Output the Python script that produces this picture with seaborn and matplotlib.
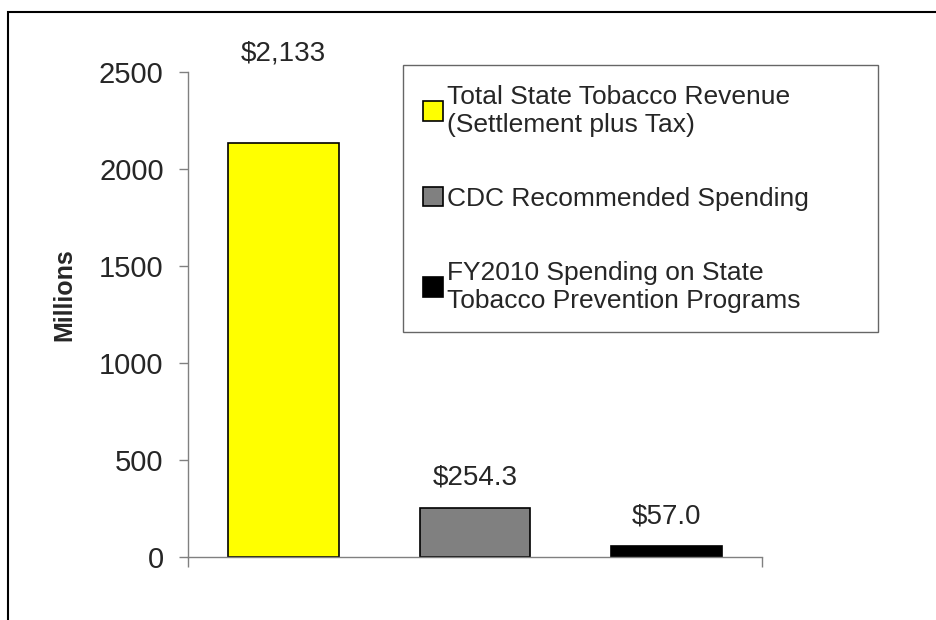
import matplotlib.pyplot as plt
import matplotlib.patches as mpatches
import seaborn as sns
import pandas as pd

# ---- data ----
categories = ['Total State Tobacco Revenue\n(Settlement plus Tax)',
              'CDC Recommended Spending',
              'FY2010 Spending on State\nTobacco Prevention Programs']
values = [2133, 254.3, 57.0]
value_labels = ['$2,133', '$254.3', '$57.0']
bar_colors = ['#ffff00', '#808080', '#000000']

df = pd.DataFrame({'category': categories, 'value': values})

sns.set_style('white')
plt.rcParams['font.family'] = ['Liberation Sans', 'DejaVu Sans']

fig = plt.figure(figsize=(9.36, 6.2), dpi=100)
ax = fig.add_axes([188 / 936, 1 - 557 / 620, (762 - 188) / 936, (557 - 72) / 620])

sns.barplot(data=df, x='category', y='value', hue='category',
            palette=bar_colors, saturation=1, dodge=False, width=0.58,
            edgecolor='black', linewidth=1.2, legend=False, ax=ax)

ax.set_xlim(-0.5, 2.5)
ax.set_ylim(0, 2500)
ax.set_yticks([0, 500, 1000, 1500, 2000, 2500])
ax.set_xticks([-0.5, 2.5])
ax.set_xticklabels(['', ''])
ax.tick_params(axis='y', labelsize=21, direction='out', length=6.5, width=1,
               color='#808080', left=True, pad=11)
ax.tick_params(axis='x', direction='out', length=7, width=1,
               color='#808080', bottom=True)
for s in ['top', 'right']:
    ax.spines[s].set_visible(False)
for s in ['left', 'bottom']:
    ax.spines[s].set_color('#808080')
    ax.spines[s].set_linewidth(1)
ax.set_xlabel('')
ax.set_ylabel('Millions', fontsize=18, fontweight='bold')
ax.yaxis.set_label_coords(-0.195, 0.54)

# value labels above the bars
pads = [55, 12, 12]
for cont, lab, pad in zip(ax.containers, value_labels, pads):
    ax.bar_label(cont, labels=[lab], padding=pad, fontsize=20, clip_on=False)

# legend
handles = [mpatches.Patch(facecolor=c, edgecolor='black', linewidth=1.2, label=l)
           for c, l in zip(bar_colors, categories)]
leg = fig.legend(handles=handles, loc='upper left',
                 bbox_to_anchor=(403 / 936, 1 - 348 / 620, 475 / 936, 283 / 620),
                 bbox_transform=fig.transFigure, mode='expand',
                 fontsize=19, frameon=True, fancybox=False, shadow=False,
                 borderpad=0.75, labelspacing=1.9, handlelength=0.75,
                 handleheight=0.75, handletextpad=0.15, borderaxespad=0)
leg.get_frame().set_edgecolor('#404040')
leg.get_frame().set_linewidth(1)

# outer frame
fig.patches.append(mpatches.Rectangle((8 / 936, -0.1), 1.2, 1 - 12 / 620 + 0.1,
                                      transform=fig.transFigure, fill=False,
                                      edgecolor='black', linewidth=1.5))

fig.savefig('out.png', dpi=100)
